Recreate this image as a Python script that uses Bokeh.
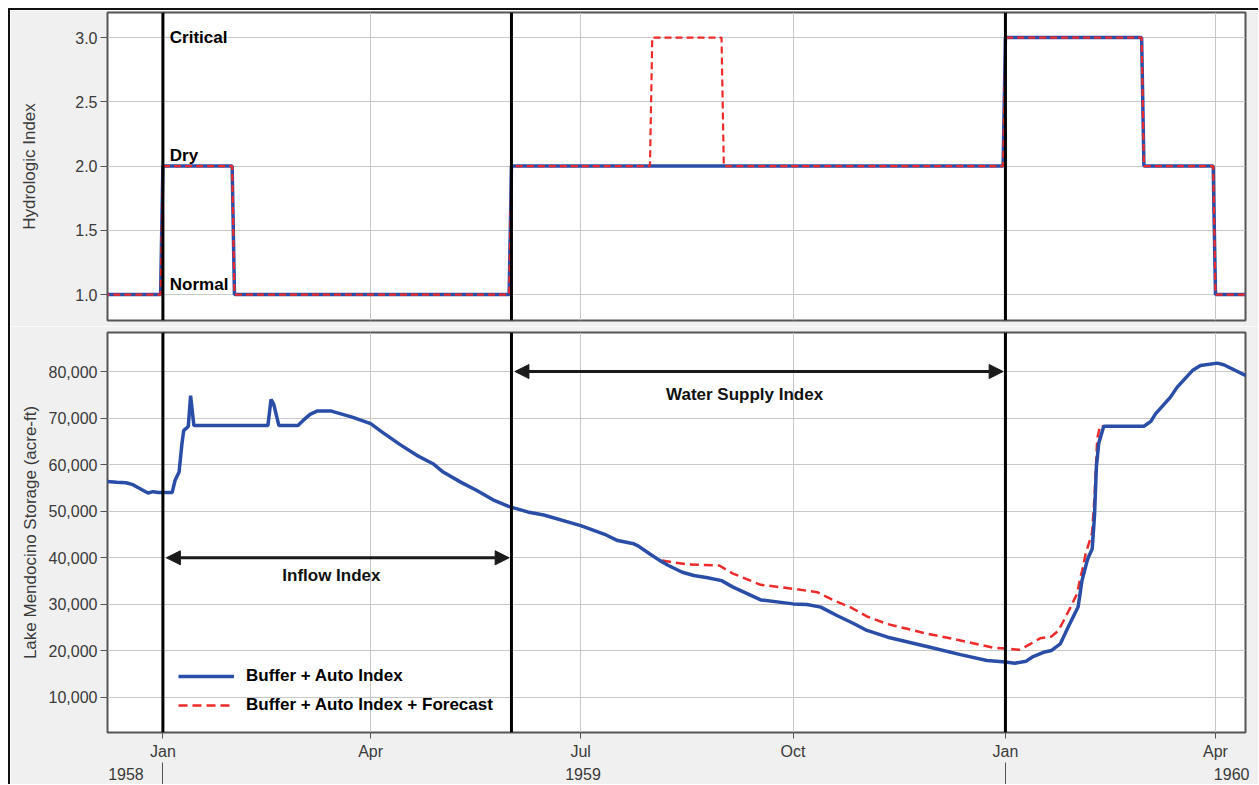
import pandas as pd
from bokeh.plotting import figure
from bokeh.layouts import column
from bokeh.models import (ColumnDataSource, Span, Arrow, NormalHead, Legend, LegendItem,
                          DatetimeAxis, FixedTicker, MonthsTicker, DatetimeTickFormatter,
                          NumeralTickFormatter, Range1d)
from bokeh.core.properties import value
from bokeh.embed import file_html
from bokeh.resources import INLINE

# ---------------- data ----------------
index_dates_buffer = ["1958-12-01", "1958-12-31", "1959-01-01", "1959-01-31", "1959-02-01",
                      "1959-05-31", "1959-06-01", "1959-12-31", "1960-01-01", "1960-02-29",
                      "1960-03-01", "1960-03-31", "1960-04-01", "1960-04-30"]
index_buffer = [1, 1, 2, 2, 1, 1, 2, 2, 3, 3, 2, 2, 1, 1]

index_dates_forecast = ["1958-12-01", "1958-12-31", "1959-01-01", "1959-01-31", "1959-02-01",
                        "1959-05-31", "1959-06-01", "1959-07-31", "1959-08-01", "1959-08-31",
                        "1959-09-01", "1959-12-31", "1960-01-01", "1960-02-29", "1960-03-01",
                        "1960-03-31", "1960-04-01", "1960-04-30"]
index_forecast = [1, 1, 2, 2, 1, 1, 2, 2, 3, 3, 2, 2, 3, 3, 2, 2, 1, 1]

storage_dates_buffer = [
    "1958-12-07", "1958-12-12", "1958-12-16", "1958-12-19", "1958-12-25 12:00",
    "1958-12-27 18:00", "1958-12-30", "1959-01-05", "1959-01-06 06:00", "1959-01-08",
    "1959-01-09 06:00", "1959-01-10", "1959-01-12", "1959-01-13", "1959-01-14 10:00",
    "1959-02-15 12:00", "1959-02-16 20:00", "1959-02-18", "1959-02-20 06:00",
    "1959-02-28 12:00", "1959-03-02 18:00", "1959-03-05 18:00", "1959-03-08 18:00",
    "1959-03-15", "1959-03-24", "1959-04-01", "1959-04-06", "1959-04-13 18:00",
    "1959-04-21", "1959-04-28", "1959-05-02 10:00", "1959-05-10", "1959-05-17",
    "1959-05-24", "1959-05-31", "1959-06-08", "1959-06-15", "1959-07-01", "1959-07-12",
    "1959-07-17", "1959-07-24", "1959-07-26", "1959-07-31", "1959-08-04", "1959-08-08",
    "1959-08-14", "1959-08-19", "1959-08-25", "1959-08-31", "1959-09-05", "1959-09-17",
    "1959-10-01", "1959-10-07", "1959-10-13", "1959-10-20", "1959-10-27", "1959-11-02",
    "1959-11-11", "1959-11-28", "1959-12-12 12:00", "1959-12-24", "1960-01-01",
    "1960-01-05", "1960-01-10", "1960-01-13", "1960-01-17 12:00", "1960-01-21",
    "1960-01-24 18:00", "1960-01-28 12:00", "1960-02-01 12:00", "1960-02-03 04:00",
    "1960-02-05 10:00", "1960-02-06 02:00", "1960-02-07 14:00", "1960-02-08 14:00",
    "1960-02-09 10:00", "1960-02-10 10:00", "1960-02-12 14:00", "1960-03-01",
    "1960-03-04", "1960-03-06", "1960-03-12 12:00", "1960-03-15 10:00", "1960-03-22",
    "1960-03-25 12:00", "1960-04-01 18:00", "1960-04-04 14:00", "1960-04-14", "1960-04-20"]
storage_buffer = [
    56400, 56200, 56100, 55700, 53900,
    54200, 54000, 54000, 56600, 58400,
    64500, 67300, 68200, 74800, 68400,
    68400, 74000, 73000, 68400,
    68400, 69500, 70800, 71500,
    71500, 70200, 68800, 67000, 64300,
    62000, 60200, 58400, 56250, 54450,
    52450, 51000, 49850, 49200, 46900, 44900,
    43700, 43000, 42500, 40800, 39500, 38350,
    36900, 36200, 35700, 35100, 33700, 30950,
    30100, 29950, 29400, 27600, 25950, 24400,
    22950, 20950, 19200, 17950, 17600,
    17350, 17800, 18800, 19700, 20100,
    21500, 25450, 29500, 35100,
    39400, 40300, 41900, 49000,
    59600, 64600, 68250, 68250,
    69300, 70900, 74500, 76650, 80200,
    81300, 81800, 81450, 79150, 78000]

storage_dates_forecast = [
    "1959-07-26", "1959-07-31", "1959-08-04", "1959-08-16", "1959-08-30", "1959-09-05",
    "1959-09-17", "1959-10-01", "1959-10-11 12:00", "1959-10-18 10:00", "1959-10-25 18:00",
    "1959-11-02", "1959-11-10 18:00", "1959-11-28", "1959-12-12 12:00", "1959-12-26 18:00",
    "1960-01-01", "1960-01-07", "1960-01-11 12:00", "1960-01-16", "1960-01-21",
    "1960-01-24", "1960-01-29 06:00", "1960-02-01", "1960-02-02 12:00", "1960-02-03 06:00",
    "1960-02-04 18:00", "1960-02-06 02:00", "1960-02-07 12:00", "1960-02-08 12:00",
    "1960-02-09 06:00", "1960-02-09 18:00", "1960-02-11", "1960-02-12 14:00"]
storage_forecast = [
    42500, 40800, 39500, 38600, 38350, 36600,
    34200, 33350, 32600, 30900, 29400,
    27400, 25800, 23700, 22250, 20700,
    20500, 20250, 21400, 22700, 23100,
    24400, 29400, 32250, 35800, 37250,
    40800, 43000, 45300, 52300,
    60000, 65500, 68400, 68250]

index_levels = [3, 2, 1]
index_level_names = ["Critical", "Dry", "Normal"]
period_boundaries = ["1959-01-01", "1959-06-01", "1960-01-01"]
hydro_ticks = [1.0, 1.5, 2.0, 2.5, 3.0]
storage_ticks = [10000, 20000, 30000, 40000, 50000, 60000, 70000, 80000]
series_names = ["Buffer + Auto Index", "Buffer + Auto Index + Forecast"]


def ms(d):
    return pd.Timestamp(d).value / 1e6


def to_dt(lst):
    return pd.to_datetime(lst, format="mixed")


BLUE = "#2a4ea8"
RED = "#ee2a2a"
FONT = "Liberation Sans"
TICK_COLOR = "#3a3a3a"
BG = "#f0f0f0"
FIG_W = 1248

x_range = Range1d(start=ms("1958-12-08"), end=ms("1960-04-14"))


def style(p):
    p.background_fill_color = "white"
    p.border_fill_color = BG
    p.outline_line_color = "#555555"
    p.outline_line_width = 2
    p.xgrid.grid_line_color = "#c8c8c8"
    p.ygrid.grid_line_color = "#c8c8c8"
    p.xgrid.ticker = MonthsTicker(months=[0, 3, 6, 9])
    for ax in p.yaxis:
        ax.major_tick_out = 7
        ax.major_tick_in = 0
        ax.minor_tick_out = 0
        ax.minor_tick_in = 0
        ax.major_label_standoff = 3
        ax.major_label_text_font = FONT
        ax.major_label_text_font_size = "16px"
        ax.major_label_text_color = TICK_COLOR
        ax.axis_label_text_font = FONT
        ax.axis_label_text_font_size = "17px"
        ax.axis_label_text_font_style = "normal"
        ax.axis_label_text_color = TICK_COLOR
        ax.axis_line_color = None
        ax.major_tick_line_color = "#555555"
    for b in period_boundaries:
        p.add_layout(Span(location=ms(b), dimension="height", line_color="black", line_width=3))


# ---------------- top panel ----------------
p1 = figure(width=FIG_W, height=316, x_axis_type="datetime", x_range=x_range,
            y_range=Range1d(0.798, 3.195), output_backend="svg", toolbar_location=None,
            min_border_left=97, min_border_right=13, min_border_top=2, min_border_bottom=6)
p1.xaxis.visible = False
p1.yaxis.ticker = FixedTicker(ticks=hydro_ticks)
p1.yaxis.formatter = NumeralTickFormatter(format="0.0")
p1.yaxis.axis_label = "Hydrologic Index"
p1.yaxis.axis_label_standoff = 33
style(p1)

src_ib = ColumnDataSource(dict(x=to_dt(index_dates_buffer), y=index_buffer))
src_if = ColumnDataSource(dict(x=to_dt(index_dates_forecast), y=index_forecast))
p1.line("x", "y", source=src_ib, line_color=BLUE, line_width=3.5)
p1.line("x", "y", source=src_if, line_color=RED, line_width=2.2, line_dash="7 4")

lbl_x = [ms("1959-01-04")] * 3
p1.text(x=lbl_x[:1], y=index_levels[:1], text=index_level_names[:1],
        text_font=value(FONT), text_font_style="bold", text_font_size="17px",
        text_color="black", text_align="left", text_baseline="middle")
p1.text(x=lbl_x[1:], y=index_levels[1:], text=index_level_names[1:],
        text_font=value(FONT), text_font_style="bold", text_font_size="17px",
        text_color="black", text_align="left", text_baseline="bottom", y_offset=-1)

# ---------------- bottom panel ----------------
p2 = figure(width=FIG_W, height=458, x_axis_type="datetime", x_range=x_range,
            y_range=Range1d(2480, 88380), output_backend="svg", toolbar_location=None,
            min_border_left=97, min_border_right=13, min_border_top=6, min_border_bottom=52)
p2.yaxis.ticker = FixedTicker(ticks=storage_ticks)
p2.yaxis.formatter = NumeralTickFormatter(format="0,0")
p2.yaxis.axis_label = "Lake Mendocino Storage (acre-ft)"
p2.yaxis.axis_label_standoff = 6

xa = p2.xaxis[0]
xa.ticker = MonthsTicker(months=[0, 3, 6, 9])
xa.formatter = DatetimeTickFormatter(months="%b", days="%b", years="%b")
xa.major_tick_out = 6
xa.major_tick_in = 0
xa.minor_tick_out = 0
xa.minor_tick_in = 0
xa.major_label_standoff = 4
xa.major_label_text_font = FONT
xa.major_label_text_font_size = "16px"
xa.major_label_text_color = TICK_COLOR
xa.axis_line_color = None
xa.major_tick_line_color = "#555555"

year_fmt = DatetimeTickFormatter(microseconds="%Y", milliseconds="%Y", seconds="%Y",
                                 minsec="%Y", minutes="%Y", hourmin="%Y", hours="%Y",
                                 days="%Y", months="%Y", years="%Y")
ya = DatetimeAxis(ticker=FixedTicker(ticks=[ms("1958-12-16"), ms("1959-07-02"), ms("1960-04-08")],
                                     minor_ticks=[ms("1959-01-01"), ms("1960-01-01")]),
                  formatter=year_fmt)
ya.axis_line_color = None
ya.major_tick_out = 0
ya.major_tick_in = 0
ya.major_tick_line_color = None
ya.minor_tick_out = 22
ya.minor_tick_in = 0
ya.minor_tick_line_color = "#555555"
ya.major_label_standoff = -17
ya.major_label_text_font = FONT
ya.major_label_text_font_size = "16px"
ya.major_label_text_color = TICK_COLOR
p2.add_layout(ya, "below")
style(p2)

src_sf = ColumnDataSource(dict(x=to_dt(storage_dates_forecast), y=storage_forecast))
src_sb = ColumnDataSource(dict(x=to_dt(storage_dates_buffer), y=storage_buffer))
r_red = p2.line("x", "y", source=src_sf, line_color=RED, line_width=2.5, line_dash="9 5")
r_blue = p2.line("x", "y", source=src_sb, line_color=BLUE, line_width=3.5)

# arrows and their labels
head = dict(size=14, fill_color="#1a1a1a", line_color="#1a1a1a", line_width=1)
p2.add_layout(Arrow(x_start=ms("1959-01-02 12:00"), x_end=ms("1959-05-31"), y_start=40000, y_end=40000,
                    start=NormalHead(**head), end=NormalHead(**head),
                    line_color="#1a1a1a", line_width=3))
p2.add_layout(Arrow(x_start=ms("1959-06-02 12:00"), x_end=ms("1959-12-31"), y_start=80000, y_end=80000,
                    start=NormalHead(**head), end=NormalHead(**head),
                    line_color="#1a1a1a", line_width=3))
p2.text(x=[ms("1959-03-15"), ms("1959-09-10")], y=[36200, 75000],
        text=["Inflow Index", "Water Supply Index"],
        text_font=value(FONT), text_font_style="bold", text_font_size="17px",
        text_color="#111111", text_align="center", text_baseline="middle")

legend = Legend(items=[LegendItem(label=series_names[0], renderers=[r_blue]),
                       LegendItem(label=series_names[1], renderers=[r_red])],
                location=(71, 17), padding=0, margin=0, spacing=9,
                glyph_width=56, glyph_height=20, label_height=20, label_standoff=12,
                label_text_font=FONT, label_text_font_size="17px", label_text_font_style="bold",
                label_text_color="black", background_fill_alpha=0, border_line_color=None)
p2.add_layout(legend)

layout = column(p1, p2, spacing=0,
                styles={"margin-left": "8px", "margin-top": "8px",
                        "border-left": "2px solid #111111", "border-top": "2px solid #111111"})
open("out.html", "w").write(file_html(layout, INLINE))
